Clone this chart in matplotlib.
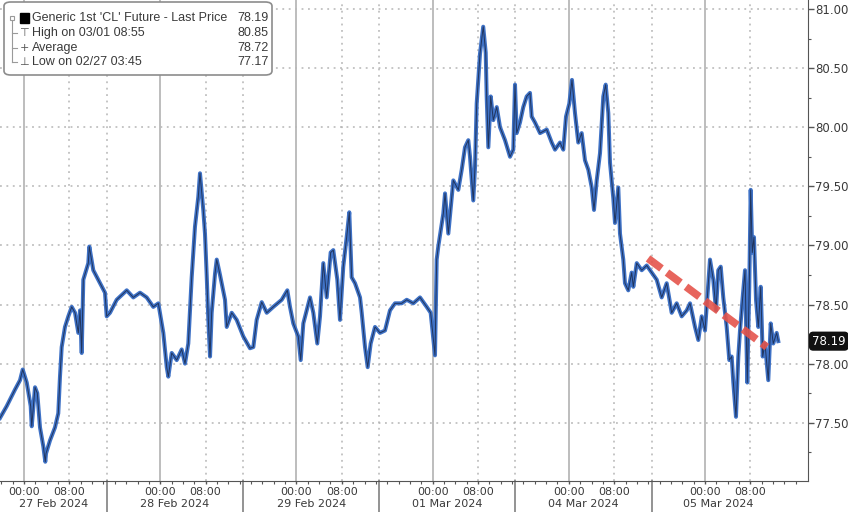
import matplotlib
matplotlib.use("Agg")
import matplotlib.pyplot as plt
import matplotlib.transforms as mtransforms
from matplotlib.lines import Line2D
from matplotlib.patches import FancyBboxPatch, Rectangle

# trading-clock hours counted from 27 Feb 2024 00:00 (weekend squeezed out)
HOURS = [
    -4.23, -3.05, -1.59, -0.70, -0.23, 0.48, 1.18, 1.36, 1.94, 2.34, 2.82, 3.40, 3.75, 3.88,
    4.58, 5.46, 6.04, 6.34, 6.64, 7.22, 7.81, 8.41, 8.99, 9.57, 9.87, 10.17, 10.45, 11.33,
    11.51, 12.21, 13.39, 14.27, 14.57, 15.15, 16.33, 18.10, 19.26, 20.44, 21.62, 22.78, 23.67,
    24.55, 25.15, 25.43, 26.03, 26.91, 27.79, 28.37, 28.95, 29.55, 30.13, 30.71, 31.01, 31.59,
    31.89, 32.19, 32.48, 32.78, 33.07, 33.66, 33.96, 34.54, 35.42, 35.72, 36.60, 37.48, 38.64,
    39.82, 40.41, 41.00, 41.89, 42.77, 43.93, 45.41, 46.40, 46.87, 47.45, 48.33, 48.76, 49.22,
    49.81, 50.40, 50.98, 51.68, 52.16, 52.74, 53.34, 54.04, 54.50, 55.21, 55.68, 56.26, 56.86,
    57.32, 57.74, 58.33, 59.21, 59.51, 60.09, 60.56, 61.09, 61.85, 62.73, 63.61, 64.49, 65.37,
    66.55, 67.44, 68.60, 69.78, 70.96, 71.66, 72.42, 72.72, 73.00, 73.89, 74.19, 74.77, 75.65,
    76.53, 77.13, 77.71, 78.29, 78.59, 79.17, 79.47, 79.77, 80.35, 80.92, 81.36, 81.53, 81.82,
    82.24, 82.70, 83.30, 83.88, 84.76, 85.64, 86.22, 86.52, 86.82, 87.40, 87.98, 88.58, 89.16,
    89.46, 90.04, 90.93, 92.11, 92.99, 93.57, 94.45, 95.03, 95.51, 96.09, 96.56, 97.09, 97.67,
    98.27, 98.85, 99.44, 100.04, 100.44, 100.92, 101.50, 102.08, 102.50, 102.96, 103.26, 103.84,
    104.14, 104.72, 105.02, 105.60, 105.90, 106.48, 107.08, 107.37, 107.97, 108.85, 109.73,
    110.61, 111.49, 112.37, 113.25, 114.13, 115.01, 115.89, 116.78, 117.36, 118.24, 118.82,
    119.42, 120.00, 120.58, 120.88, 121.46, 121.94, 122.34, 122.77, 123.22, 123.82, 124.28,
    124.70, 124.99, 125.46, 125.87, 126.17, 126.64, 127.05, 127.45, 127.80, 128.05, 128.33,
    128.63, 128.99, 129.39, 129.82, 130.17, 130.57, 131.15, 131.58, 132.03, 132.63, 132.91,
]
PRICE = [
    77.54, 77.64, 77.78, 77.86, 77.95, 77.84, 77.64, 77.47, 77.80, 77.75, 77.46, 77.30, 77.17, 77.24,
    77.35, 77.46, 77.58, 77.89, 78.14, 78.31, 78.40, 78.48, 78.43, 78.26, 78.45, 78.09, 78.71, 78.85,
    78.99, 78.79, 78.68, 78.60, 78.40, 78.43, 78.54, 78.62, 78.56, 78.60, 78.56, 78.48, 78.51,
    78.26, 77.97, 77.89, 78.09, 78.03, 78.12, 78.00, 78.17, 78.73, 79.16, 79.41, 79.61, 79.30,
    79.10, 78.75, 78.37, 78.06, 78.43, 78.76, 78.88, 78.75, 78.54, 78.31, 78.43, 78.37, 78.23,
    78.13, 78.14, 78.37, 78.52, 78.43, 78.48, 78.54, 78.62, 78.48, 78.34, 78.23, 78.03, 78.34,
    78.45, 78.56, 78.43, 78.17, 78.40, 78.85, 78.56, 78.94, 78.96, 78.71, 78.37, 78.82, 79.07,
    79.28, 78.73, 78.68, 78.56, 78.43, 78.14, 77.97, 78.17, 78.31, 78.26, 78.28, 78.45, 78.51,
    78.51, 78.54, 78.51, 78.56, 78.48, 78.43, 78.07, 78.88, 78.99, 79.27, 79.44, 79.10, 79.55,
    79.47, 79.64, 79.83, 79.89, 79.75, 79.38, 79.66, 80.20, 80.62, 80.85, 80.63, 80.26, 79.83,
    80.26, 80.06, 80.17, 80.00, 79.89, 79.75, 79.81, 80.36, 79.95, 80.04, 80.17, 80.26, 80.29,
    80.09, 80.04, 79.95, 79.98, 79.87, 79.81, 79.87, 79.81, 80.09, 80.20, 80.40, 80.12, 79.87,
    79.95, 79.72, 79.64, 79.49, 79.30, 79.55, 79.78, 80.26, 80.36, 80.12, 79.70, 79.40,
    79.19, 79.49, 79.10, 78.88, 78.68, 78.62, 78.77, 78.65, 78.85, 78.79, 78.83,
    78.77, 78.71, 78.56, 78.68, 78.43, 78.51, 78.40, 78.45, 78.51, 78.31, 78.20,
    78.40, 78.28, 78.68, 78.88, 78.71, 78.45, 78.79, 78.82, 78.56, 78.31, 78.03,
    78.06, 77.84, 77.55, 78.06, 78.28, 78.56, 78.79, 77.84, 78.65, 79.47, 78.94,
    79.07, 78.54, 78.31, 78.65, 78.06, 78.17, 77.86, 78.34, 78.17, 78.26, 78.19,
]

DAY_LABELS = ["27 Feb 2024", "28 Feb 2024", "29 Feb 2024", "01 Mar 2024", "04 Mar 2024", "05 Mar 2024"]
DAY_MIDNIGHTS = [0, 24, 48, 72, 96, 120]
SESSION_BREAKS = [14.6, 38.6, 62.6, 86.6, 110.6]
LAST_HOUR = 134.1
YTICKS = [77.5, 78.0, 78.5, 79.0, 79.5, 80.0, 80.5, 81.0]

TREND_HOURS = [109.96, 130.9]
TREND_PRICE = [78.89, 78.14]

LEGEND_NAMES = ["Generic 1st 'CL' Future - Last Price", "High on 03/01 08:55", "Average", "Low on 02/27 03:45"]
LEGEND_VALUES = ["78.19", "80.85", "78.72", "77.17"]
LAST_PRICE = 78.19

W, H = 848, 512
TEXT = "#3a3a3a"
GRID = "#b5b5b5"
AXIS = "#555555"

plt.rcParams["font.family"] = ["DejaVu Sans"]

fig = plt.figure(figsize=(W / 100, H / 100), dpi=100)
fig.patch.set_facecolor("white")
ax = fig.add_axes([0, 31 / H, 808 / W, 481 / H])
ax.set_xlim(-4.23, 138.15)
ax.set_ylim(77.007, 81.076)

# gridlines
for y in YTICKS:
    ax.axhline(y, color=GRID, lw=1.1, ls=(0, (1.2, 3)), zorder=1)
for d in DAY_MIDNIGHTS:
    ax.axvline(d, color="#b8b8b8", lw=1.3, zorder=1)
    ax.axvline(d + 8, color=GRID, lw=1.1, ls=(0, (1.2, 3)), zorder=1)
for b in SESSION_BREAKS:
    ax.axvline(b, color=GRID, lw=1.1, ls=(0, (1.2, 3)), zorder=1)

# price line: blue body with a thin dark core
ax.plot(HOURS, PRICE, color="#3f72c6", lw=2.9, zorder=3)
ax.plot(HOURS, PRICE, color="#16203a", lw=0.7, alpha=0.75, zorder=4)

# red dashed trend
ax.plot(TREND_HOURS, TREND_PRICE, color="#e5544b", lw=5.5, alpha=0.9,
        dashes=(2.2, 0.9), solid_capstyle="butt", dash_capstyle="butt", zorder=5)

# axes styling
for side in ("left", "top"):
    ax.spines[side].set_visible(False)
ax.spines["right"].set_color(AXIS)
ax.spines["bottom"].set_color(AXIS)
ax.yaxis.tick_right()
ax.set_yticks(YTICKS)
ax.set_yticklabels([f"{v:.2f}" for v in YTICKS])
ax.set_yticks([v + 0.25 for v in YTICKS[:-1]] + [77.25], minor=True)
ax.tick_params(axis="y", which="major", length=4, width=1, color=AXIS, labelsize=8.5,
               labelcolor=TEXT, pad=1)
ax.tick_params(axis="y", which="minor", length=2.5, width=0.8, color=AXIS)

xt, xl = [], []
for d in DAY_MIDNIGHTS:
    xt += [d, d + 8]
    xl += ["00:00", "08:00"]
ax.set_xticks(xt)
ax.set_xticklabels(xl)
ax.set_xticks(list(range(-4, 138, 2)), minor=True)
ax.tick_params(axis="x", which="major", length=2.5, width=1, color=AXIS, labelsize=8,
               labelcolor=TEXT, pad=2)
ax.tick_params(axis="x", which="minor", length=2, width=0.8, color=AXIS)

# day labels and separators under the axis
bt = mtransforms.blended_transform_factory(ax.transData, ax.transAxes)
edges = [ax.get_xlim()[0]] + SESSION_BREAKS + [LAST_HOUR]
for i, lab in enumerate(DAY_LABELS):
    ax.text((edges[i] + edges[i + 1]) / 2, -0.047, lab, transform=bt, ha="center", va="center",
            fontsize=8, color=TEXT)
for b in SESSION_BREAKS:
    ax.add_line(Line2D([b, b], [0, -0.07], transform=bt, color="#8a8a8a", lw=1.3, clip_on=False))

# last price tag
ty = mtransforms.blended_transform_factory(fig.transFigure, ax.transData)
fig.text(812 / W, LAST_PRICE, f"{LAST_PRICE:.2f}", transform=ty, ha="left", va="center",
         fontsize=8.5, color="white",
         bbox=dict(boxstyle="round,pad=0.2,rounding_size=0.3", fc="#111111", ec="#111111"))


# legend box (figure pixel coords)
def fx(px):
    return px / W


def fy(py):
    return 1 - py / H


fig.add_artist(FancyBboxPatch((fx(4), fy(75)), fx(268), 73 / H,
                              boxstyle="round,pad=0,rounding_size=0.008",
                              transform=fig.transFigure, fc="white", ec="#8c8c8c", lw=1.2, zorder=10))
rows_y = [18, 33, 48, 62]
fig.add_artist(Line2D([fx(12), fx(12)], [fy(20), fy(62)], transform=fig.transFigure,
                      color="#9a9a9a", lw=0.8, zorder=11))
fig.add_artist(Rectangle((fx(10), fy(20)), fx(4), 4 / H, transform=fig.transFigure,
                         fc="white", ec="#9a9a9a", lw=0.8, zorder=11))
for ry in rows_y[1:]:
    fig.add_artist(Line2D([fx(12), fx(17)], [fy(ry), fy(ry)], transform=fig.transFigure,
                          color="#9a9a9a", lw=0.8, zorder=11))
fig.add_artist(Rectangle((fx(20), fy(23)), fx(9), 10 / H, transform=fig.transFigure,
                         fc="black", ec="black", zorder=11))
for sym, ry in zip(["\u22a4", "+", "\u22a5"], rows_y[1:]):
    fig.text(fx(24), fy(ry), sym, ha="center", va="center", fontsize=8, color="#555555", zorder=11)
for name, val, ry in zip(LEGEND_NAMES, LEGEND_VALUES, rows_y):
    fig.text(fx(32), fy(ry), name, ha="left", va="center", fontsize=9,
             family="Liberation Sans", color=TEXT, zorder=11)
    fig.text(fx(269), fy(ry), val, ha="right", va="center", fontsize=9,
             family="Liberation Sans", color=TEXT, zorder=11)

fig.savefig("out.png", dpi=100)
